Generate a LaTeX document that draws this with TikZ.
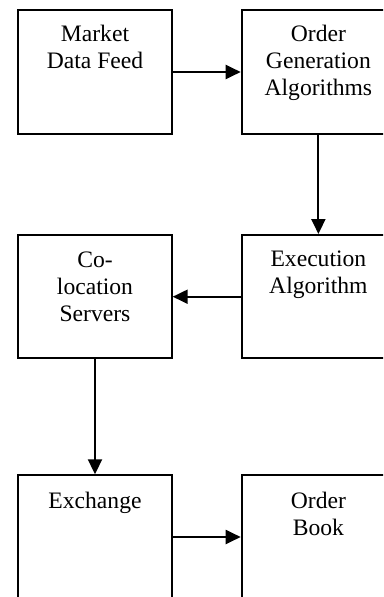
\documentclass[tikz,border=0pt]{standalone}
\usepackage{fontspec}
\setmainfont{Liberation Serif}
\usetikzlibrary{arrows.meta}
\begin{document}
\begin{tikzpicture}[x=1pt,y=-1pt,
  box/.style={draw=black, line width=2pt, rectangle, minimum width=153.4pt, minimum height=123.4pt, inner sep=0pt, anchor=north west},
  boxtext/.style={anchor=north, align=center, inner sep=0pt, font=\fontsize{23.6}{27}\selectfont},
  flow/.style={line width=2pt, -{Triangle[length=15pt,width=14pt]}}
]
\clip (0,0) rectangle (383,597);
\fill[white] (0,0) rectangle (383,597);
% boxes
\node[box] (mdf) at (17.3,9.3) {};
\node[box] (oga) at (240.7,9.3) {};
\node[box] (cls) at (17.3,234) {};
\node[box] (exa) at (240.7,234) {};
\node[box] (exc) at (17.3,474.3) {};
\node[box] (obk) at (240.7,474.3) {};
% texts
\node[boxtext] (mdfT) at ([yshift=-13.5pt]mdf.north) {\strut Market\\\strut Data Feed};
\node[boxtext] (ogaT) at ([yshift=-13.5pt]oga.north) {\strut Order\\\strut Generation\\\strut Algorithms};
\node[boxtext] (clsT) at ([yshift=-14.8pt]cls.north) {\strut Co-\\\strut location\\\strut Servers};
\node[boxtext] (exaT) at ([yshift=-13.8pt]exa.north) {\strut Execution\\\strut Algorithm};
\node[boxtext] (excT) at ([yshift=-15pt]exc.north) {\strut Exchange};
\node[boxtext] (obkT) at ([yshift=-15pt]obk.north) {\strut Order\\\strut Book};
% connectors
\draw[flow] (mdf.east) -- (oga.west);
\draw[flow] (oga.south) -- (exa.north);
\draw[flow] (exa.west) -- (cls.east);
\draw[flow] (cls.south) -- (exc.north);
\draw[flow] (exc.east) -- (obk.west);
\end{tikzpicture}
\end{document}
